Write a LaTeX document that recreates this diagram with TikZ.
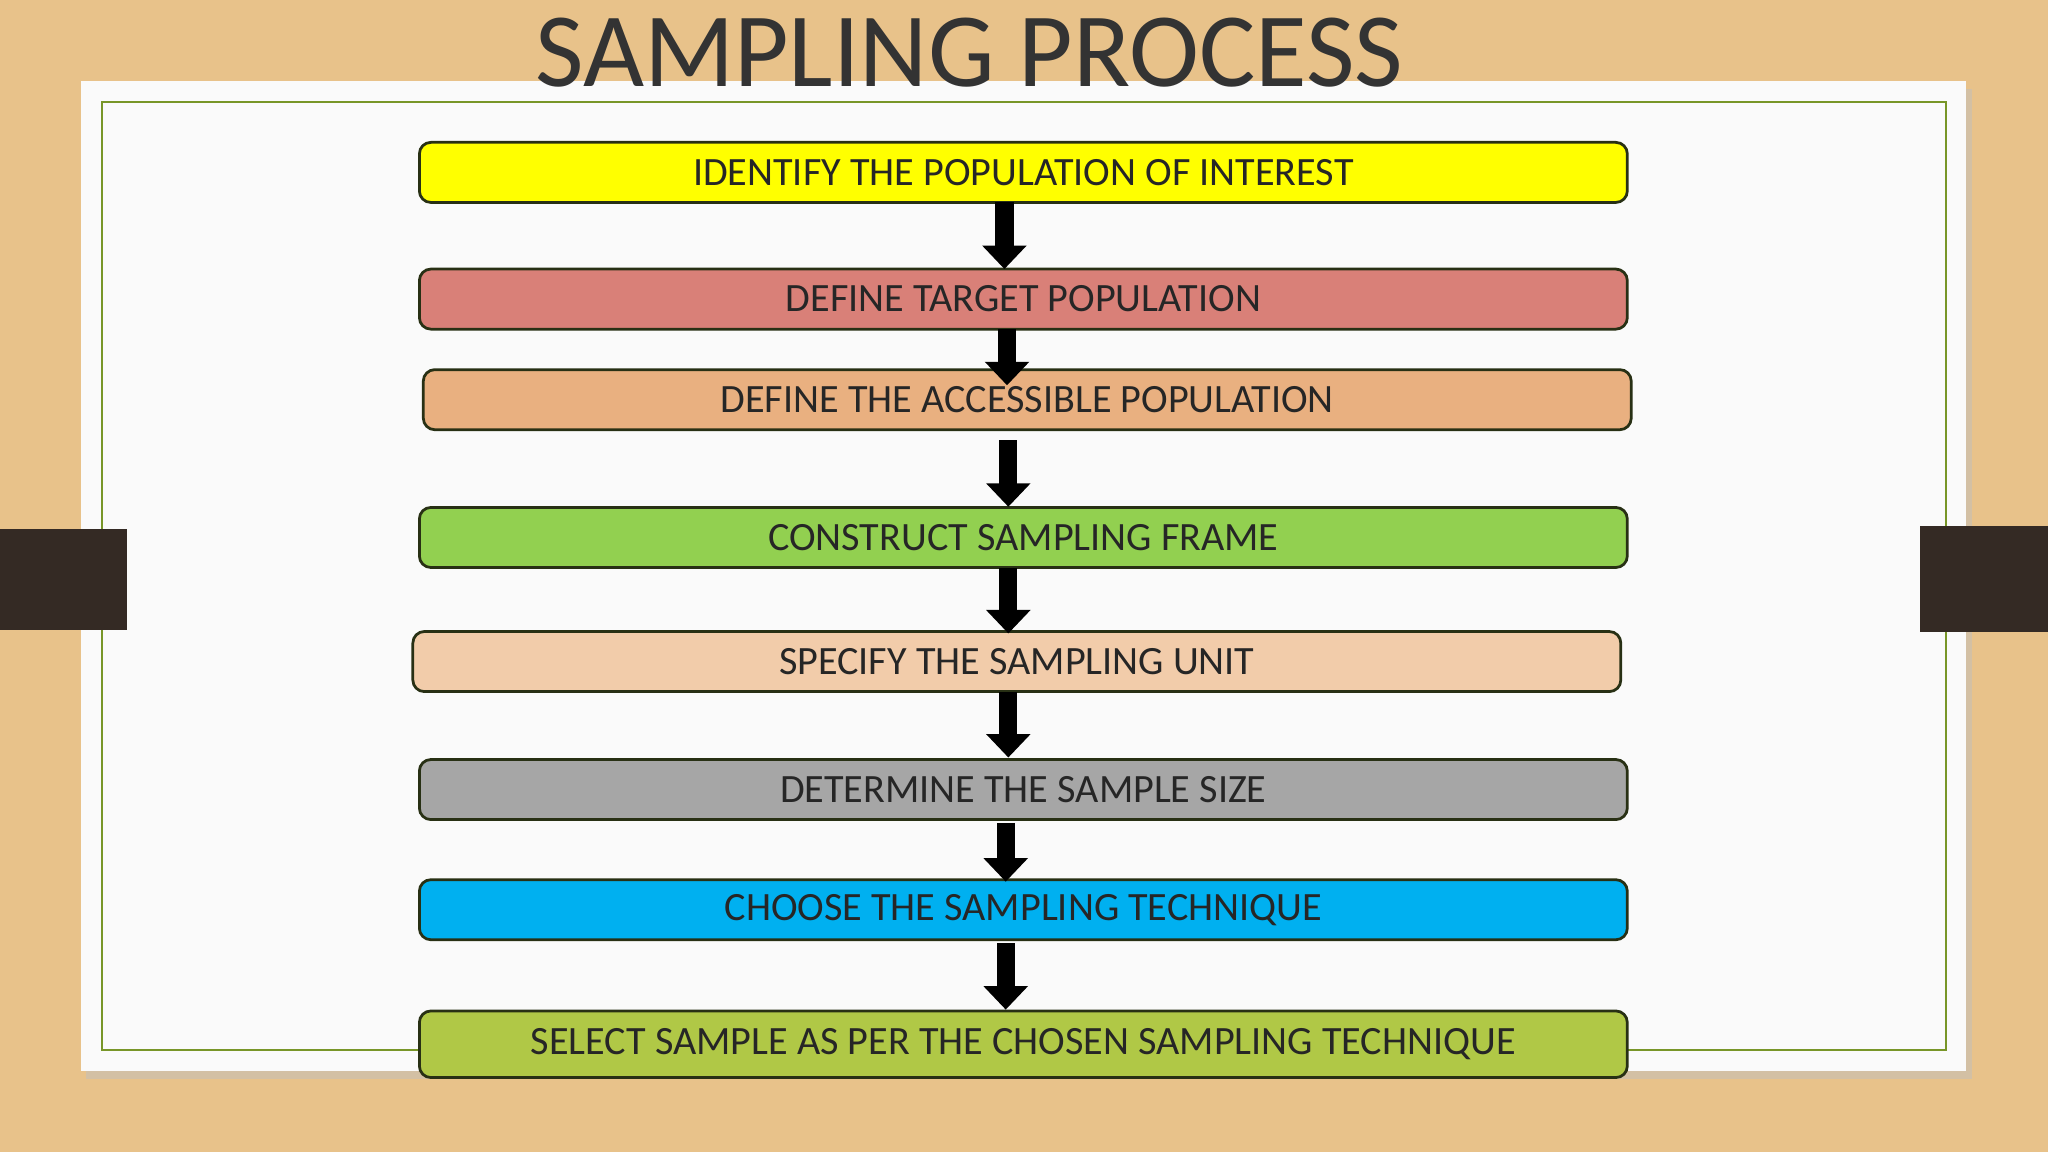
\documentclass[tikz,border=0pt]{standalone}
\usepackage{fontspec}
\setmainfont{Carlito}
\usetikzlibrary{arrows.meta}
\definecolor{wood}{RGB}{232,194,138}
\definecolor{tab}{RGB}{52,42,36}
\definecolor{frameg}{RGB}{120,150,40}
\definecolor{edge}{RGB}{40,48,20}
\definecolor{c1}{RGB}{255,255,0}
\definecolor{c2}{RGB}{217,128,120}
\definecolor{c3}{RGB}{233,176,128}
\definecolor{c4}{RGB}{146,208,80}
\definecolor{c5}{RGB}{242,204,170}
\definecolor{c6}{RGB}{166,166,166}
\definecolor{c7}{RGB}{0,176,240}
\definecolor{c8}{RGB}{176,200,70}
\tikzset{
  stepbox/.style={draw=edge,line width=1.2pt,rounded corners=5pt,minimum width=18.5cm,minimum height=0.92cm,inner sep=0pt,font=\fontsize{17.5}{20}\selectfont,text=black!85},
  flow/.style={line width=0.28cm,-{Triangle[width=0.66cm,length=0.36cm]},black}
}
\begin{document}
\begin{tikzpicture}[x=0.02cm,y=-0.02cm]
\useasboundingbox (0,0) rectangle (1568,882);
\fill[wood] (0,0) rectangle (1568,882);
\fill[black!25,opacity=0.5] (66,68) rectangle (1510,826);
\fill[white!96!gray] (62,62) rectangle (1505,820);
\draw[frameg,line width=1pt] (78,78) rectangle (1490,804);
\fill[tab] (0,405) rectangle (97,482);
\fill[tab] (1470,403) rectangle (1568,484);
\node[text=black!80,font=\fontsize{46}{50}\selectfont] (title) at (742,40) {SAMPLING PROCESS};
\node[stepbox,fill=c1] (b1) at (783.5,132) {IDENTIFY THE POPULATION OF INTEREST};
\node[stepbox,fill=c2] (b2) at (783.5,229) {DEFINE TARGET POPULATION};
\node[stepbox,fill=c3] (b3) at (786.5,306) {DEFINE THE ACCESSIBLE POPULATION};
\node[stepbox,fill=c4] (b4) at (783.5,411.5) {CONSTRUCT SAMPLING FRAME};
\node[stepbox,fill=c5] (b5) at (778.5,506.5) {SPECIFY THE SAMPLING UNIT};
\node[stepbox,fill=c6] (b6) at (783.5,604.5) {DETERMINE THE SAMPLE SIZE};
\node[stepbox,fill=c7] (b7) at (783.5,696.5) {CHOOSE THE SAMPLING TECHNIQUE};
\node[stepbox,fill=c8,minimum height=1.02cm] (b8) at (783.5,799.5) {SELECT SAMPLE AS PER THE CHOSEN SAMPLING TECHNIQUE};
\coordinate (a1) at (769,155); \coordinate (e1) at (769,206);
\coordinate (a2) at (771,252); \coordinate (e2) at (771,295);
\coordinate (a3) at (772,337); \coordinate (e3) at (772,388);
\coordinate (a4) at (772,435); \coordinate (e4) at (772,485);
\coordinate (a5) at (772,530); \coordinate (e5) at (772,580);
\coordinate (a6) at (770,630); \coordinate (e6) at (770,675);
\coordinate (a7) at (770,722); \coordinate (e7) at (770,773);
\foreach \i in {1,...,7} \draw[flow] (a\i) -- (e\i);
\end{tikzpicture}
\end{document}
